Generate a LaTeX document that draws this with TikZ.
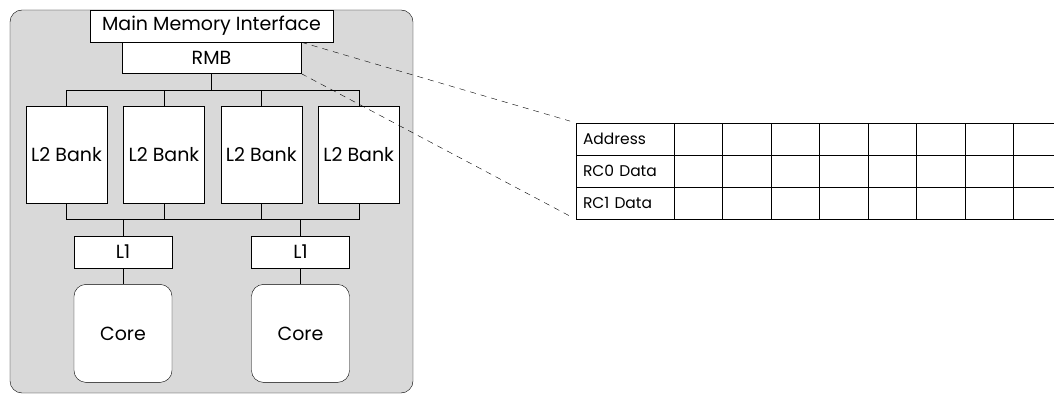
\documentclass[tikz,border=0pt]{standalone}
\usepackage{fontspec}
\setmainfont{Poppins}
\usetikzlibrary{positioning}
\definecolor{chipgray}{HTML}{D9D9D9}

\begin{document}
\begin{tikzpicture}[
    x=1pt, y=1pt,
    node distance=16pt,
    every node/.style={font=\fontsize{19}{21}\selectfont},
    blk/.style={draw, fill=white, inner sep=0pt, align=center},
    bank/.style={blk, minimum width=81pt, minimum height=97pt},
    lone/.style={blk, minimum width=98pt, minimum height=32pt},
    core/.style={blk, rounded corners=12pt, minimum width=98pt, minimum height=98pt},
    rowlabel/.style={draw, inner xsep=7pt, inner ysep=0pt, minimum height=32pt, text width=84pt, align=left, font=\fontsize{15.5}{17}\selectfont},
    cell/.style={draw, inner sep=0pt, minimum width=48.5pt, minimum height=32pt},
    zoomline/.style={dash pattern=on 6pt off 5pt, shorten >=6pt}
]
\useasboundingbox (0,0) rectangle (1054,-395);
\clip (0,0) rectangle (1054,-395);
\draw[fill=chipgray, rounded corners=12pt] (10,-10) rectangle (413,-393);
\node[blk, minimum width=243pt, minimum height=32pt] (mmi) at (211.5,-26) {Main Memory Interface};
\node[blk, minimum width=179pt, minimum height=31pt, below=0pt of mmi] (rmb) {RMB};
\node[bank] (bank1) at (66.5,-154.5) {L2 Bank};
\node[bank, right=of bank1] (bank2) {L2 Bank};
\node[bank, right=of bank2] (bank3) {L2 Bank};
\node[bank, right=of bank3] (bank4) {L2 Bank};
\node[lone] (l1a) at (123,-252) {L1};
\node[lone] (l1b) at (300.5,-252) {L1};
\node[core, below=of l1a] (corea) {Core};
\node[core, below=of l1b] (coreb) {Core};
\coordinate (topbus) at (0,-90);
\coordinate (botbus) at (0,-219);
\draw (rmb.south) -- (rmb.south |- topbus);
\draw (bank1.north) |- (topbus -| bank4.north) -- (bank4.north);
\draw (bank2.north) -- (bank2.north |- topbus);
\draw (bank3.north) -- (bank3.north |- topbus);
\draw (bank1.south) |- (botbus -| bank4.south) -- (bank4.south);
\draw (bank2.south) -- (bank2.south |- botbus);
\draw (bank3.south) -- (bank3.south |- botbus);
\draw (l1a.north) -- (l1a.north |- botbus);
\draw (l1b.north) -- (l1b.north |- botbus);
\draw (l1a) -- (corea);
\draw (l1b) -- (coreb);
\foreach \r/\t [count=\i] in {addr/Address, rcz/RC0 Data, rco/RC1 Data} {
  \node[rowlabel] (\r) at (625,{-139-32*(\i-1)}) {\t};
  \foreach \c in {1,...,8}
    \node[cell] (\r-\c) at ({674+48.5*(\c-0.5)},{-139-32*(\i-1)}) {};
}
\draw[zoomline] (rmb.north east) -- (addr.north west);
\draw[zoomline] (rmb.south east) -- (rco.south west);
\end{tikzpicture}
\end{document}
